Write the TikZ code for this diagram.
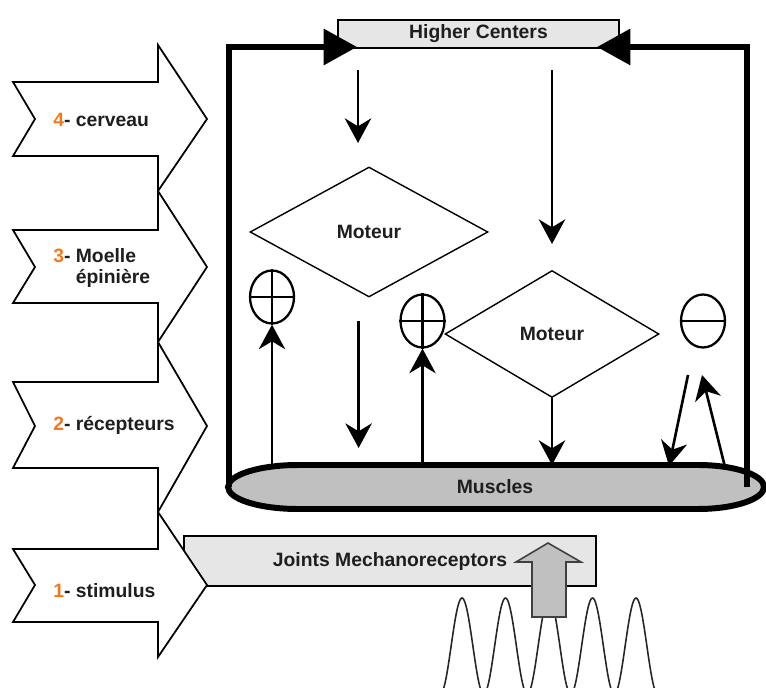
\documentclass[tikz,border=0pt]{standalone}
\usepackage{fontspec}
\setmainfont{Liberation Sans}
\usetikzlibrary{arrows.meta,shapes.geometric,positioning}

\definecolor{numorange}{RGB}{245,120,30}
\definecolor{boxgray}{RGB}{230,230,230}
\definecolor{musclegray}{RGB}{192,192,192}
\definecolor{txt}{RGB}{30,30,30}

\begin{document}
\begin{tikzpicture}[x=0.02cm, y=-0.02cm,
 lbl/.style={font=\bfseries\fontsize{11}{11.3}\selectfont, text=txt},
 chev/.style={draw=black, line width=1pt, fill=white},
 hcbox/.style={lbl, draw, line width=1.1pt, fill=boxgray, minimum width=5.62cm, minimum height=0.56cm, inner sep=0},
 jmbox/.style={lbl, draw, line width=0.9pt, fill=boxgray, minimum width=8.24cm, minimum height=1cm, inner sep=0},
 motbox/.style={lbl, diamond, draw, line width=0.8pt, aspect=2, inner sep=1pt},
 sgn/.style={ellipse, draw, line width=1.3pt, minimum width=0.88cm, minimum height=1.06cm, inner sep=0},
 arr/.style={line width=1.5pt, -{Stealth[length=14pt, width=15pt, inset=4.5pt]}},
 frame/.style={line width=3.4pt, -{Triangle[length=19pt, width=20pt]}},
 wave/.style={line width=0.9pt, draw=black!85}]
 \useasboundingbox (0,0) rectangle (766,688);

 \node[jmbox] (jm) at (390,561) {Joints Mechanoreceptors};
 \draw[wave] plot[domain=440:658, samples=220] (\x, {646-48*cos(8.27586*(\x-462))});
 \draw[line width=0.9pt, draw=black!75, fill=musclegray] (548,543) -- (581,562) -- (566,562) -- (566,617) -- (532,617) -- (532,562) -- (516,562) -- cycle;

 \foreach \t/\bt/\bb/\at/\ab in {119/82/156/45/191, 267/230/303/191/342, 426/382/468/342/512, 585/549/622/512/657}
  \draw[chev] (13,\bt) -- (158,\bt) -- (158,\at) -- (207,\t) -- (158,\ab) -- (158,\bb) -- (13,\bb) -- (35,\t) -- cycle;
 \node[lbl, anchor=base west, inner sep=0] (c4) at (53,127) {\textcolor{numorange}{4}- cerveau};
 \node[lbl, anchor=base west, inner sep=0] (c3) at (53,263) {\textcolor{numorange}{3}- \begin{tabular}[t]{@{}l@{}}Moelle\\épinière\end{tabular}};
 \node[lbl, anchor=base west, inner sep=0] (c2) at (53,430) {\textcolor{numorange}{2}- récepteurs};
 \node[lbl, anchor=base west, inner sep=0] (c1) at (53,597) {\textcolor{numorange}{1}- stimulus};

 \draw[line width=3.4pt, fill=musclegray] (298,465) -- (698,465) arc[start angle=90, end angle=-90, x radius=1.32cm, y radius=0.44cm] -- (298,509) arc[start angle=270, end angle=90, x radius=1.4cm, y radius=0.44cm] -- cycle;
 \node[lbl] (mus) at (495,487) {Muscles};

 \node[hcbox] (hc) at (478.5,34) {Higher Centers};
 \coordinate (hcL) at (357,47);
 \coordinate (hcR) at (597,47);
 \draw[frame] (229,487) -- (229,47) -- (hcL);
 \draw[frame] (747,487) -- (747,47) -- (hcR);

 \node[motbox, minimum width=4.76cm, minimum height=2.6cm] (mot1) at (369,232) {Moteur};
 \node[motbox, minimum width=4.28cm, minimum height=2.54cm] (mot2) at (552,334) {Moteur};
 \node[sgn] (p1) at (272,297) {};
 \node[sgn] (p2) at (422.5,321) {};
 \node[sgn] (mn) at (703,321) {};
 \draw[line width=1.6pt] (p1.north) -- (p1.south) (p1.west) -- (p1.east);
 \draw[line width=1.6pt] (p2.north) -- (p2.south) (p2.west) -- (p2.east);
 \draw[line width=1.6pt] (mn.west) -- (mn.east);

 \coordinate (t1) at (358,70);
 \coordinate (b1) at (358,143);
 \coordinate (t2) at (552,70);
 \coordinate (b2) at (552,244);
 \coordinate (t3) at (358.6,321);
 \coordinate (b3) at (358.6,448);
 \coordinate (s1) at (688,375);
 \coordinate (s2) at (702,375);
 \coordinate (m1) at (272,465);
 \coordinate (m2) at (422.5,465);
 \coordinate (m3) at (552,465);
 \coordinate (m4) at (669,466);
 \coordinate (m5) at (725,467);
 \draw[arr] (t1) -- (b1);
 \draw[arr] (t2) -- (b2);
 \draw[arr] (t3) -- (b3);
 \draw[arr] (mot2.south) -- (m3);
 \draw[arr] (m1) -- (p1.south);
 \draw[arr] (m2) -- (p2.south);
 \draw[arr] (s1) -- (m4);
 \draw[arr] (m5) -- (s2);
\end{tikzpicture}
\end{document}
